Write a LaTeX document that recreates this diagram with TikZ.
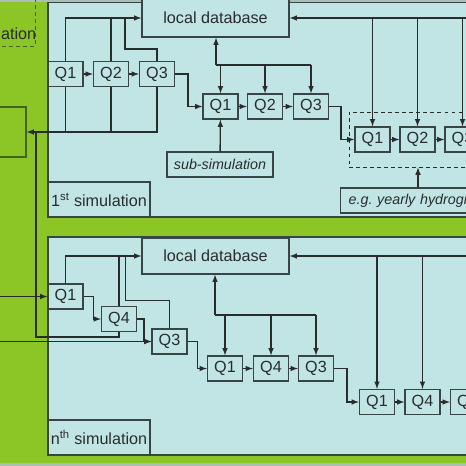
\documentclass[tikz,border=0pt]{standalone}
\usepackage{fontspec}
\setmainfont{Liberation Sans}
\usepackage{xcolor}
\usepackage{tikz}
\usetikzlibrary{arrows,positioning,calc}
\definecolor{simgreen}{RGB}{140,197,38}
\definecolor{panelcyan}{RGB}{193,229,228}
\definecolor{edgegray}{RGB}{55,70,68}
\definecolor{linegray}{RGB}{40,44,44}
\definecolor{darkgreen}{RGB}{68,98,32}
\definecolor{bandgray}{RGB}{168,192,184}
\tikzset{
  qbox/.style={draw=edgegray,fill=panelcyan,line width=1.1pt,minimum width=10.5mm,minimum height=7.5mm,inner sep=0pt},
  dbbox/.style={qbox,minimum width=44.1mm},
  dashbox/.style={draw=linegray,dashed,line width=0.8pt,inner sep=0pt},
  greenbox/.style={draw=darkgreen,line width=1.1pt,inner sep=0pt},
  slanted/.style={font=\fontsize{12.2}{15}\selectfont\itshape}
}

\begin{document}
\begin{tikzpicture}[x=0.3mm,y=-0.3mm,font=\fontsize{13.8}{16}\selectfont,line width=1.15pt,color=linegray]
	\useasboundingbox (0,0) rectangle (466,466);
	\clip (0,0) rectangle (466,466);
	\fill[simgreen] (0,0) rectangle (466,466);
	\filldraw[fill=panelcyan,draw=edgegray] (48,2) rectangle (480,217);
	\filldraw[fill=panelcyan,draw=edgegray] (48,237) rectangle (480,455);
	\fill[bandgray] (0,0) rectangle (466,2.5);
	\fill[bandgray] (0,463) rectangle (466,466);
	% left side
	\node[dashbox,draw=darkgreen,minimum width=12mm,minimum height=15.3mm] (prev) at (15,20.5) {};
	\node[anchor=west,inner sep=0pt] (prevtext) at (0.5,34) {ation};
	\node[greenbox,minimum width=9.3mm,minimum height=15mm] (out) at (10.5,132) {};
	\coordinate (tap) at (36,132);
	% 1st simulation
	\node[dbbox,minimum height=11.4mm] (db1) at (215.5,18) {local database};
	\node[qbox] (q1a) at (65.5,74) {Q1};
	\node[qbox] (q2a) at (111,74) {Q2};
	\node[qbox] (q3a) at (157,74) {Q3};
	\node[qbox] (q1s) at (220.5,106.5) {Q1};
	\node[qbox] (q2s) at (265,106.5) {Q2};
	\node[qbox] (q3s) at (311,106.5) {Q3};
	\node[qbox,slanted,minimum width=31.8mm] (sub) at (220,164.5) {sub-simulation};
	\node[dashbox,minimum width=41.4mm,minimum height=16.5mm] (yearbox) at (418,139.5) {};
	\node[qbox] (q1y) at (372.5,139.5) {Q1};
	\node[qbox] (q2y) at (417.5,139.5) {Q2};
	\node[qbox] (q3y) at (462.5,139.5) {Q3};
	\node[qbox,slanted,anchor=west,text width=44mm,align=left,inner xsep=2.4mm] (yearly) at (340,200.5) {e.g.\ yearly hydrogr};
	\node[qbox,minimum width=30.6mm,minimum height=10.5mm] (sim1) at (99,199.5) {1\textsuperscript{st} simulation};
	\coordinate (bus1) at (216,65);
	\coordinate (bus2) at (475,18);

	\draw[-latex] (q1a.north) |- (db1.west);
	\draw (q2a.north) -- (q2a.north |- db1.west);
	\draw (q3a.north) |- ++(-32,-12) -- ++(0,-31);
	\draw[-latex] (q3a.south) |- (out.east);
	\draw (q1a.south) -- (q1a.south |- out.east);
	\draw (q2a.south) -- (q2a.south |- out.east);
	\draw[-latex] (q1a) -- (q2a);
	\draw[-latex] (q2a) -- (q3a);
	\draw[-latex] (q3a.east) -- ++(13,0) |- (q1s.west);
	\draw[-latex] (q1s) -- (q2s);
	\draw[-latex] (q2s) -- (q3s);
	\draw[-latex] (bus1) -- (bus1 |- db1.south);
	\draw (bus1) -- (bus1 -| q3s);
	\draw[-latex] (bus1 -| q1s) -- (q1s);
	\draw[-latex] (bus1 -| q2s) -- (q2s);
	\draw[-latex] (bus1 -| q3s) -- (q3s);
	\draw[-latex] (sub) -- (q1s);
	\draw[-latex] (q3s.east) -- ++(12,0) |- (q1y.west);
	\draw[-latex] (q1y) -- (q2y);
	\draw[-latex] (q2y) -- (q3y);
	\draw[-latex] (bus2) -- (db1.east);
	\draw[-latex] (q1y |- db1.east) -- (q1y);
	\draw[-latex] (q2y |- db1.east) -- (q2y);
	\draw[-latex] (q3y |- db1.east) -- (q3y);
	\draw[-latex] (yearbox.south |- yearly.north) -- (yearbox.south);
	% nth simulation
	\node[dbbox,minimum height=10.8mm] (db2) at (215.5,256) {local database};
	\node[qbox] (q1b) at (65.5,296.5) {Q1};
	\node[qbox] (q4b) at (119,319) {Q4};
	\node[qbox] (q3b) at (169.5,341.5) {Q3};
	\node[qbox] (q1c) at (225,368.5) {Q1};
	\node[qbox] (q4c) at (271,368.5) {Q4};
	\node[qbox] (q3c) at (316,368.5) {Q3};
	\node[qbox] (q1d) at (377,402) {Q1};
	\node[qbox] (q4d) at (422.5,402) {Q4};
	\node[qbox] (q3d) at (468,402) {Q3};
	\node[qbox,minimum width=30.6mm,minimum height=10.5mm] (simn) at (99,437.5) {n\textsuperscript{th} simulation};
	\coordinate (inA) at (-5,296.5);
	\coordinate (inB) at (-5,341.5);
	\coordinate (bus3) at (215,315);
	\coordinate (bus4) at (475,256);

	\draw[-latex] (inA) -- (q1b.west);
	\draw[-latex] (inB) -- (q3b.west);
	\draw[-latex] (q1b.north) |- (db2.west);
	\draw (q4b.north) -- (q4b.north |- db2.west);
	\draw (q3b.north) |- ++(-44,-28) -- ++(0,-45);
	\draw[-latex] (q1b.east) -- ++(10,0) |- (q4b.west);
	\draw[-latex] (q4b.east) -- ++(7,0) |- (q3b.west);
	\draw (q4b.south) -- ++(0,5) -| (tap);
	\draw[-latex] (q3b.east) -- ++(10,0) |- (q1c.west);
	\draw[-latex] (q1c) -- (q4c);
	\draw[-latex] (q4c) -- (q3c);
	\draw[-latex] (bus3) -- (bus3 |- db2.south);
	\draw (bus3) -- (bus3 -| q3c);
	\draw[-latex] (bus3 -| q1c) -- (q1c);
	\draw[-latex] (bus3 -| q4c) -- (q4c);
	\draw[-latex] (bus3 -| q3c) -- (q3c);
	\draw[-latex] (q3c.east) -- ++(13,0) |- (q1d.west);
	\draw[-latex] (q1d) -- (q4d);
	\draw[-latex] (q4d) -- (q3d);
	\draw[-latex] (bus4) -- (db2.east);
	\draw[-latex] (q1d |- db2.east) -- (q1d);
	\draw[-latex] (q4d |- db2.east) -- (q4d);
\end{tikzpicture}
\end{document}
